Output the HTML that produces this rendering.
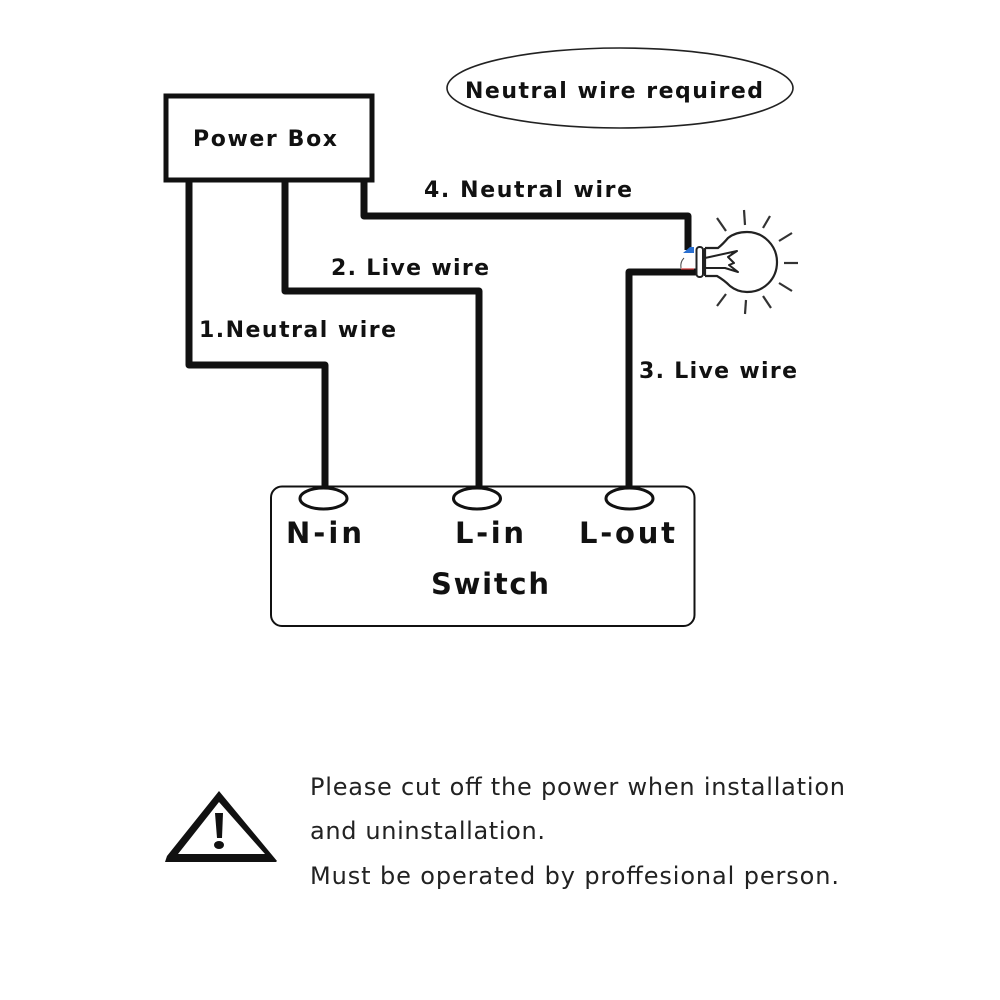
<!DOCTYPE html>
<html>
<head>
<meta charset="utf-8">
<style>
html,body{margin:0;padding:0;background:#fff;width:1000px;height:1000px;overflow:hidden}
svg{display:block}
text{fill:#111}
.b{font-family:"DejaVu Sans","Liberation Sans",sans-serif;font-weight:bold;font-size:22px}
.m{font-family:"DejaVu Sans","Liberation Sans",sans-serif;font-weight:bold;font-size:29px}
.r{font-family:"DejaVu Sans","Liberation Sans",sans-serif;font-size:24px;fill:#222}
</style>
</head>
<body>
<svg width="1000" height="1000" viewBox="0 0 1000 1000" xmlns="http://www.w3.org/2000/svg">
<rect width="1000" height="1000" fill="#fff"/>

<ellipse cx="620" cy="88" rx="173" ry="40" fill="none" stroke="#222" stroke-width="1.6"/>
<text class="b" x="465" y="98" textLength="298" lengthAdjust="spacing">Neutral wire required</text>

<rect x="166" y="96" width="206" height="84" fill="none" stroke="#111" stroke-width="5"/>
<text class="b" x="193" y="146" textLength="144" lengthAdjust="spacing">Power Box</text>

<g fill="none" stroke="#111" stroke-width="7" stroke-linejoin="round">
<path d="M189 180V365H325V487"/>
<path d="M285 180V291H479V487"/>
<path d="M364 180V216H688V250"/>
<path d="M629 487V272H698"/>
</g>

<text class="b" x="199" y="337" textLength="197" lengthAdjust="spacing">1.Neutral wire</text>
<text class="b" x="331" y="275" textLength="158" lengthAdjust="spacing">2. Live wire</text>
<text class="b" x="639" y="378" textLength="158" lengthAdjust="spacing">3. Live wire</text>
<text class="b" x="424" y="197" textLength="208" lengthAdjust="spacing">4. Neutral wire</text>

<!-- bulb -->
<path d="M683 253L690 247H694V253Z" fill="#2a6fd0"/>
<path d="M684 258Q680 262 681 268" fill="none" stroke="#444" stroke-width="1"/>
<path d="M681 269H694" stroke="#c33" stroke-width="1.2"/>
<rect x="696.500" y="247" width="6.500" height="30" rx="3" fill="#fff" stroke="#222" stroke-width="2"/>
<path d="M705 248H718Q723 244 728 238C733 234 740 232 747 232C764 232 777 246 777 262C777 279 764 292 747 292C740 292 735 290 730 286Q724 280 717 276H705M705 248V276" fill="#fff" stroke="#222" stroke-width="2.200"/>
<path d="M705 258L737 251L728 257L734 263L729 265L738 272L725 268L705 268" fill="none" stroke="#222" stroke-width="2" stroke-linejoin="round"/>
<g stroke="#333" stroke-width="2.200" fill="none">
<path d="M717 218L726 231"/>
<path d="M744 210L745 225"/>
<path d="M770 216L763 228"/>
<path d="M792 233L779 241"/>
<path d="M784 263H798"/>
<path d="M779 283L792 291"/>
<path d="M763 296L771 308"/>
<path d="M746 300L745 314"/>
<path d="M726 294L717 306"/>
</g>

<!-- switch -->
<rect x="271" y="486.500" width="423.500" height="139.500" rx="11" fill="#fff" stroke="#111" stroke-width="2"/>
<g fill="none" stroke="#111" stroke-width="3" >
<ellipse cx="323.500" cy="498.500" rx="23.500" ry="10.500" fill="#fff"/>
<ellipse cx="477" cy="498.500" rx="23.500" ry="10.500" fill="#fff"/>
<ellipse cx="629.500" cy="498.500" rx="23.500" ry="10.500" fill="#fff"/>
</g>
<path d="M325 480V487M479 480V487M629 480V487" stroke="#111" stroke-width="7"/>
<text class="m" x="286" y="543" textLength="76" lengthAdjust="spacing">N-in</text>
<text class="m" x="455" y="543" textLength="69" lengthAdjust="spacing">L-in</text>
<text class="m" x="579" y="543" textLength="96" lengthAdjust="spacing">L-out</text>
<text class="m" x="431" y="594" textLength="118" lengthAdjust="spacing">Switch</text>

<!-- warning -->
<path fill-rule="evenodd" fill="#111" d="M219 791L277 861L276 862H165L167 856ZM219 802L178 854H265Z"/>
<path d="M215 813H223L222 838H217Z" fill="#111"/>
<ellipse cx="219" cy="845" rx="5" ry="4" fill="#111"/>

<text class="r" x="310" y="795" textLength="535" lengthAdjust="spacing">Please cut off the power when installation</text>
<text class="r" x="310" y="839" textLength="235" lengthAdjust="spacing">and uninstallation.</text>
<text class="r" x="310" y="884" textLength="529" lengthAdjust="spacing">Must be operated by proffesional person.</text>
</svg>
</body>
</html>
